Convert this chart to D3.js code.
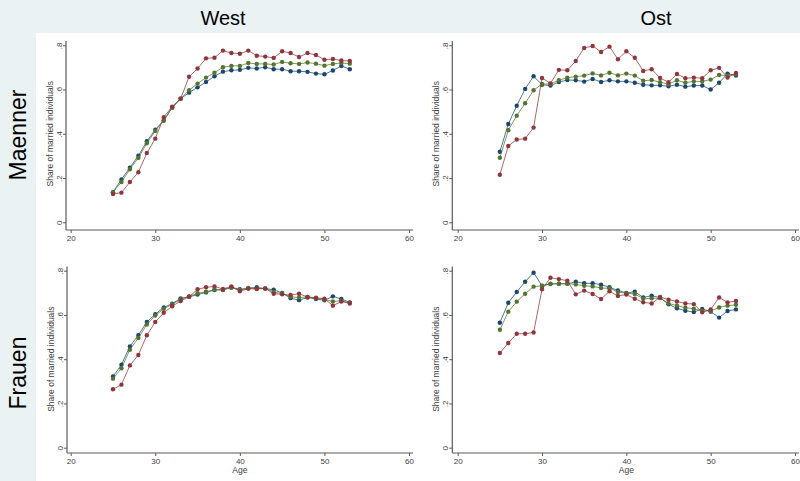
<!DOCTYPE html>
<html>
<head>
<meta charset="utf-8">
<script src="https://cdn.jsdelivr.net/npm/d3@7"></script>
<style>
  body { margin: 0; background: #eaf2f3; }
  svg { display: block; font-family: "Liberation Sans", Arial, sans-serif; }
</style>
</head>
<body>
<div id="chart"></div>
<script>
// Ages on the x axis
const ages = d3.range(25, 54);
const xTicks = [20, 30, 40, 50, 60];
const yTicks = [0, 0.2, 0.4, 0.6, 0.8];
const colTitles = ["West", "Ost"];
const rowTitles = ["Maenner", "Frauen"];

// West, Maenner
const westMenNavy = [0.136,0.194,0.247,0.301,0.366,0.419,0.460,0.520,0.559,0.586,0.610,0.634,0.660,0.681,0.687,0.689,0.698,0.695,0.701,0.692,0.692,0.683,0.683,0.680,0.672,0.669,0.686,0.707,0.692];
const westMenGreen = [0.136,0.182,0.240,0.291,0.357,0.413,0.460,0.517,0.559,0.597,0.627,0.654,0.676,0.701,0.707,0.707,0.720,0.716,0.716,0.713,0.725,0.719,0.716,0.722,0.717,0.708,0.716,0.720,0.717];
const westMenMaroon = [0.128,0.134,0.182,0.226,0.313,0.378,0.475,0.523,0.559,0.658,0.695,0.741,0.744,0.776,0.765,0.762,0.776,0.753,0.749,0.743,0.773,0.765,0.747,0.765,0.756,0.735,0.738,0.731,0.729];

// Ost, Maenner
const ostMenNavy = [0.319,0.444,0.527,0.603,0.660,0.622,0.618,0.634,0.643,0.642,0.636,0.648,0.634,0.642,0.637,0.637,0.631,0.622,0.619,0.619,0.615,0.622,0.613,0.618,0.618,0.600,0.631,0.672,0.663];
const ostMenGreen = [0.292,0.416,0.482,0.538,0.597,0.625,0.625,0.642,0.654,0.658,0.663,0.673,0.664,0.676,0.664,0.672,0.663,0.640,0.643,0.633,0.624,0.642,0.631,0.637,0.637,0.645,0.666,0.663,0.670];
const ostMenMaroon = [0.215,0.345,0.374,0.378,0.428,0.652,0.628,0.689,0.687,0.729,0.788,0.797,0.770,0.794,0.737,0.773,0.744,0.684,0.692,0.652,0.633,0.670,0.651,0.654,0.651,0.687,0.698,0.654,0.675];

// West, Frauen
const westWomenNavy = [0.322,0.375,0.458,0.509,0.568,0.603,0.634,0.651,0.675,0.682,0.692,0.702,0.713,0.713,0.725,0.716,0.720,0.725,0.719,0.714,0.699,0.676,0.667,0.679,0.672,0.666,0.684,0.672,0.657];
const westWomenGreen = [0.312,0.359,0.443,0.496,0.557,0.597,0.628,0.648,0.670,0.684,0.698,0.705,0.714,0.714,0.723,0.713,0.722,0.719,0.720,0.704,0.696,0.682,0.679,0.681,0.675,0.670,0.661,0.664,0.655];
const westWomenMaroon = [0.264,0.285,0.372,0.419,0.508,0.568,0.610,0.639,0.663,0.682,0.716,0.725,0.729,0.717,0.729,0.707,0.719,0.717,0.720,0.696,0.693,0.690,0.696,0.681,0.678,0.673,0.642,0.661,0.652];

// Ost, Frauen
const ostWomenNavy = [0.565,0.655,0.704,0.750,0.791,0.732,0.740,0.741,0.741,0.750,0.743,0.743,0.737,0.725,0.711,0.699,0.705,0.679,0.687,0.678,0.648,0.630,0.619,0.613,0.627,0.615,0.588,0.618,0.625];
const ostWomenGreen = [0.533,0.615,0.660,0.696,0.728,0.731,0.741,0.741,0.741,0.738,0.732,0.729,0.722,0.720,0.704,0.698,0.695,0.673,0.675,0.676,0.652,0.642,0.633,0.628,0.619,0.618,0.634,0.642,0.646];
const ostWomenMaroon = [0.428,0.473,0.515,0.515,0.521,0.716,0.768,0.762,0.755,0.693,0.710,0.695,0.672,0.707,0.686,0.692,0.673,0.657,0.652,0.681,0.669,0.661,0.652,0.649,0.612,0.625,0.679,0.657,0.663];

const colors = ["#1a476f", "#55752f", "#90353b"];

// Panel layout: x range for 20..60, y range for 0..0.8, plot box
const panels = [
    {row: 0, col: 0, series: [westMenNavy, westMenGreen, westMenMaroon],
     xr: [70.7, 409], yr: [222.3, 45.3], left: 66, right: 413, top: 41, bottom: 230},
    {row: 0, col: 1, series: [ostMenNavy, ostMenGreen, ostMenMaroon],
     xr: [457.7, 795], yr: [222.3, 45.3], left: 452.3, right: 799, top: 41, bottom: 230},
    {row: 1, col: 0, series: [westWomenNavy, westWomenGreen, westWomenMaroon],
     xr: [70.7, 409], yr: [447.7, 270.7], left: 67, right: 413, top: 266.5, bottom: 453},
    {row: 1, col: 1, series: [ostWomenNavy, ostWomenGreen, ostWomenMaroon],
     xr: [457.7, 795], yr: [447.7, 270.7], left: 452.3, right: 799, top: 266.5, bottom: 453}
];

const width = 800, height = 481;

const svg = d3.select("#chart")
    .append("svg")
    .attr("width", width)
    .attr("height", height);

// Background and white area
svg.append("rect").attr("width", width).attr("height", height).attr("fill", "#eaf2f3");
svg.append("rect").attr("x", 36).attr("y", 33).attr("width", width - 36).attr("height", height - 33).attr("fill", "#ffffff");

// Column titles
svg.selectAll(".col-title")
    .data(colTitles)
    .enter().append("text")
    .attr("class", "col-title")
    .attr("x", (d, i) => i === 0 ? 223 : 656)
    .attr("y", 25)
    .attr("text-anchor", "middle")
    .attr("font-size", "20px")
    .attr("fill", "#000")
    .text(d => d);

// Row titles
svg.selectAll(".row-title")
    .data(rowTitles)
    .enter().append("text")
    .attr("class", "row-title")
    .attr("transform", (d, i) => `translate(26,${i === 0 ? 135 : 373}) rotate(-90)`)
    .attr("text-anchor", "middle")
    .attr("font-size", "23px")
    .attr("fill", "#000")
    .text(d => d);

const fmtY = d => d === 0 ? "0" : d3.format(".1f")(d).replace(/^0/, "");

panels.forEach(p => {
    const xScale = d3.scaleLinear().domain([20, 60]).range(p.xr);
    const yScale = d3.scaleLinear().domain([0, 0.8]).range(p.yr);
    const g = svg.append("g");

    // x axis
    const xAxis = g.append("g")
        .attr("transform", `translate(0,${p.bottom})`)
        .call(d3.axisBottom(xScale).tickValues(xTicks).tickSize(3).tickPadding(2).tickFormat(d3.format("d")));
    xAxis.select(".domain").attr("d", `M${p.left},0H${p.right}`);

    // y axis
    const yAxis = g.append("g")
        .attr("transform", `translate(${p.left},0)`)
        .call(d3.axisLeft(yScale).tickValues(yTicks).tickSize(3).tickFormat(fmtY));
    yAxis.select(".domain").attr("d", `M0,${p.top}V${p.bottom}`);
    yAxis.selectAll(".tick text")
        .attr("x", null).attr("dy", null)
        .attr("text-anchor", "middle")
        .attr("transform", "translate(-4.5,0) rotate(-90)");

    [xAxis, yAxis].forEach(a => {
        a.attr("font-family", null).attr("font-size", null);
        a.select(".domain").attr("stroke", "#5a5a5a").attr("stroke-width", 1.2);
        a.selectAll(".tick line").attr("stroke", "#5a5a5a");
        a.selectAll(".tick text").attr("fill", "#404040").attr("font-size", "8px");
    });

    // y axis title
    g.append("text")
        .attr("transform", `translate(${p.left - 13.5},${(p.yr[0] + p.yr[1]) / 2}) rotate(-90)`)
        .attr("text-anchor", "middle")
        .attr("font-size", "8.5px")
        .attr("fill", "#404040")
        .text("Share of married individuals");

    // x axis title on bottom row
    if (p.row === 1) {
        g.append("text")
            .attr("x", (p.xr[0] + p.xr[1]) / 2)
            .attr("y", 473)
            .attr("text-anchor", "middle")
            .attr("font-size", "8.5px")
            .attr("fill", "#404040")
            .text("Age");
    }

    const line = d3.line()
        .x((d, i) => xScale(ages[i]))
        .y(d => yScale(d));

    p.series.forEach((s, k) => {
        g.append("path")
            .datum(s)
            .attr("d", line)
            .attr("fill", "none")
            .attr("stroke", colors[k])
            .attr("stroke-opacity", 0.75)
            .attr("stroke-width", 1);

        g.selectAll(null)
            .data(s)
            .enter().append("circle")
            .attr("cx", (d, i) => xScale(ages[i]))
            .attr("cy", d => yScale(d))
            .attr("r", 2.2)
            .attr("fill", colors[k]);
    });
});
</script>
</body>
</html>
